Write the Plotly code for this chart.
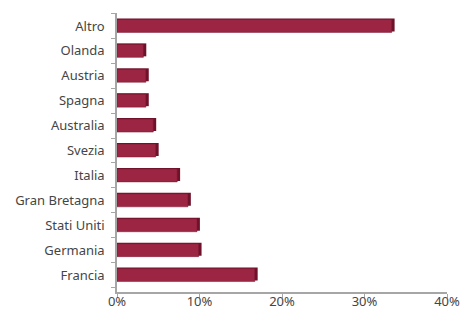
import plotly.graph_objects as go

categories = ["Francia", "Germania", "Stati Uniti", "Gran Bretagna", "Italia",
              "Svezia", "Australia", "Spagna", "Austria", "Olanda", "Altro"]
values = [16.7, 9.9, 9.7, 8.6, 7.3, 4.7, 4.4, 3.5, 3.5, 3.2, 33.3]
x_ticks = [0, 10, 20, 30, 40]
x_tick_labels = ["0%", "10%", "20%", "30%", "40%"]

fig = go.Figure()
# depth/shadow layer
fig.add_trace(go.Bar(
    y=categories, x=[v + 0.35 for v in values], orientation="h",
    marker=dict(color="#6e1229", line=dict(width=0)), width=0.52,
    offset=-0.22, hoverinfo="skip", showlegend=False))
fig.add_trace(go.Bar(
    y=categories, x=values, orientation="h",
    marker=dict(color="#9c2543", line=dict(color="#7a1832", width=0.5)),
    width=0.52, offset=-0.26, showlegend=False))

fig.update_layout(
    width=461, height=313,
    margin=dict(l=117, r=14, t=13, b=21),
    paper_bgcolor="white", plot_bgcolor="white",
    barmode="overlay",
    font=dict(family="Noto Sans", size=13, color="#454545"),
)
fig.update_xaxes(
    range=[0, 40], tickvals=x_ticks, ticktext=x_tick_labels, automargin=False,
    showgrid=False, zeroline=False, showline=True, linecolor="#a6a6a6", linewidth=1.5,
    ticks="outside", ticklen=4, tickcolor="#a6a6a6", tickwidth=1,
    ticklabelstandoff=-7,
)
fig.update_yaxes(
    type="category", categoryorder="array", categoryarray=categories,
    range=[-0.68, 10.52], automargin=False,
    showgrid=False, zeroline=False, showline=True, linecolor="#a6a6a6", linewidth=1.5,
    ticks="outside", ticklen=4, tickcolor="#a6a6a6", tickson="boundaries",
    ticklabelstandoff=8,
)
fig.write_html("out.html", config={"displayModeBar": False},
               post_script="document.body.style.margin='0';document.body.style.overflow='hidden';")
